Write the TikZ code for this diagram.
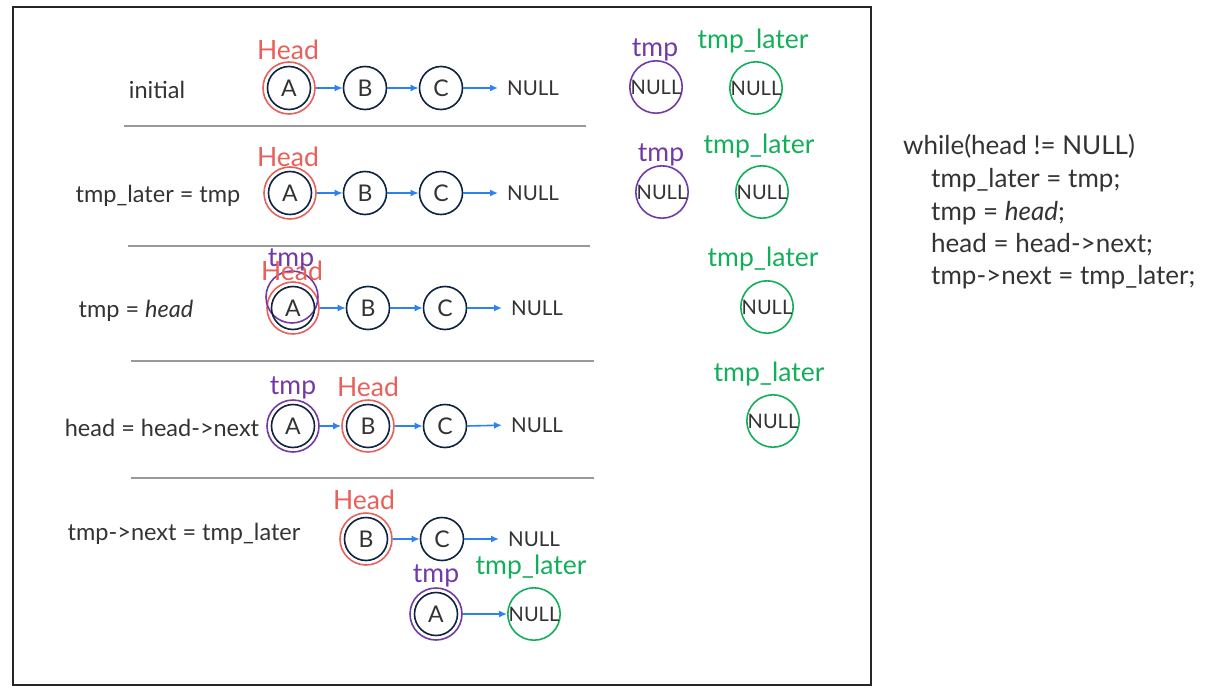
\documentclass[tikz,border=0pt]{standalone}
\usepackage{fontspec}
\setmainfont{Lato}
\usetikzlibrary{arrows.meta}
\definecolor{navy}{HTML}{0D2340}
\definecolor{hred}{HTML}{E8605A}
\definecolor{tpur}{HTML}{7339A6}
\definecolor{tgrn}{HTML}{12AE5A}
\definecolor{ablue}{HTML}{2B82F0}
\definecolor{txt}{HTML}{333333}
\definecolor{sep}{HTML}{999999}
\tikzset{
  nd/.style={circle,draw=navy,line width=1.6pt,minimum size=43pt,inner sep=0pt,text=txt,font=\fontsize{23}{23}\selectfont},
  headring/.style={circle,draw=hred,line width=1.6pt,minimum size=52pt,inner sep=0pt},
  tmpring/.style={circle,draw=tpur,line width=1.6pt,minimum size=52pt,inner sep=0pt},
  nulltmp/.style={circle,draw=tpur,line width=1.6pt,minimum size=52pt,inner sep=0pt,text=txt,font=\fontsize{20}{20}\selectfont},
  nulllat/.style={circle,draw=tgrn,line width=1.6pt,minimum size=52pt,inner sep=0pt,text=txt,font=\fontsize{20}{20}\selectfont},
  nulltxt/.style={text=txt,inner sep=0pt,font=\fontsize{20.5}{20.5}\selectfont},
  hlbl/.style={text=hred,inner sep=0pt,font=\fontsize{26.5}{26.5}\selectfont},
  tlbl/.style={text=tpur,inner sep=0pt,font=\fontsize{26.5}{26.5}\selectfont},
  glbl/.style={text=tgrn,inner sep=0pt,font=\fontsize{26.5}{26.5}\selectfont},
  steplbl/.style={text=txt,inner sep=0pt,font=\fontsize{23.5}{23.5}\selectfont},
  codeln/.style={text=txt,inner sep=0pt,anchor=west,font=\fontsize{26}{26}\selectfont},
  arr/.style={draw=ablue,line width=1.6pt,-{Latex[length=8pt,width=7pt]}},
  nullarr/.style={arr,shorten >=9pt},
  sepline/.style={draw=sep,line width=2pt},
  frame/.style={draw=black!85,line width=1.5pt}
}
\begin{document}
\begin{tikzpicture}[x=1pt,y=-1pt]
\useasboundingbox (0,0) rectangle (1227,696);
\draw[frame] (13,7) rectangle (871,685);
% row 1
\node[steplbl] (l1) at (157,90) {initial};
\node[headring] (h1) at (289,88) {};
\node[nd] (a1) at (289,88) {A};
\node[nd] (b1) at (365,88) {B};
\node[nd] (c1) at (441,88) {C};
\node[nulltxt,anchor=west] (n1) at (507,88) {NULL};
\node[hlbl] (hl1) at (288,50) {Head};
\draw[arr] (h1.east) -- (b1.west);
\draw[arr] (b1.east) -- (c1.west);
\draw[nullarr] (c1.east) -- (n1.west);
\node[nulltmp] (t1) at (656,87) {NULL};
\node[tlbl] (tl1) at (655,50) {tmp};
\node[nulllat] (g1) at (756,88) {NULL};
\node[glbl] (gl1) at (753,41) {tmp\_later};
\coordinate (s1a) at (124,126); \coordinate (s1b) at (586,126);
\draw[sepline] (s1a) -- (s1b);
% row 2
\node[steplbl] (l2) at (158,196) {tmp\_later = tmp};
\node[headring] (h2) at (290,193) {};
\node[nd] (a2) at (290,193) {A};
\node[nd] (b2) at (365,193) {B};
\node[nd] (c2) at (441,193) {C};
\node[nulltxt,anchor=west] (n2) at (507,193) {NULL};
\node[hlbl] (hl2) at (288,157) {Head};
\draw[arr] (h2.east) -- (b2.west);
\draw[arr] (b2.east) -- (c2.west);
\draw[nullarr] (c2.east) -- (n2.west);
\node[nulltmp] (t2) at (662,192) {NULL};
\node[tlbl] (tl2) at (661,155) {tmp};
\node[nulllat] (g2) at (762,192) {NULL};
\node[glbl] (gl2) at (759,146) {tmp\_later};
\coordinate (s2a) at (128,246); \coordinate (s2b) at (590,246);
\draw[sepline] (s2a) -- (s2b);
% row 3
\node[steplbl] (l3) at (136,311) {tmp = \textit{head}};
\node[headring] (h3) at (293,308) {};
\node[tmpring] (p3) at (292,297) {};
\node[nd] (a3) at (293,308) {A};
\node[nd] (b3) at (368,308) {B};
\node[nd] (c3) at (445,308) {C};
\node[nulltxt,anchor=west] (n3) at (511,308) {NULL};
\node[hlbl] (hl3) at (292,271) {Head};
\node[tlbl] (tl3) at (291,260) {tmp};
\draw[arr] (h3.east) -- (b3.west);
\draw[arr] (b3.east) -- (c3.west);
\draw[nullarr] (c3.east) -- (n3.west);
\node[nulllat] (g3) at (767,307) {NULL};
\node[glbl] (gl3) at (763,259) {tmp\_later};
\coordinate (s3a) at (131,361); \coordinate (s3b) at (594,361);
\draw[sepline] (s3a) -- (s3b);
% row 4
\node[steplbl] (l4) at (162,428) {head = head->next};
\node[tmpring] (p4) at (293,426) {};
\node[nd] (a4) at (293,426) {A};
\node[headring] (h4) at (368,426) {};
\node[nd] (b4) at (368,426) {B};
\node[nd] (c4) at (445,426) {C};
\node[nulltxt,anchor=west] (n4) at (511,425) {NULL};
\node[tlbl] (tl4) at (293,388) {tmp};
\node[hlbl] (hl4) at (368,387) {Head};
\draw[arr] (p4.east) -- (h4.west);
\draw[arr] (h4.east) -- (c4.west);
\draw[nullarr] (c4.east) -- (n4.west);
\node[nulllat] (g4) at (773,421) {NULL};
\node[glbl] (gl4) at (769,374) {tmp\_later};
\coordinate (s4a) at (131,478); \coordinate (s4b) at (594,478);
\draw[sepline] (s4a) -- (s4b);
% row 5
\node[steplbl] (l5) at (184,534) {tmp->next = tmp\_later};
\node[headring] (h5) at (366,539) {};
\node[nd] (b5) at (366,539) {B};
\node[nd] (c5) at (442,539) {C};
\node[nulltxt,anchor=west] (n5) at (508,539) {NULL};
\node[hlbl] (hl5) at (364,500) {Head};
\draw[arr] (h5.east) -- (c5.west);
\draw[nullarr] (c5.east) -- (n5.west);
\node[tmpring] (p5) at (436,614) {};
\node[nd] (a5) at (436,614) {A};
\node[tlbl] (tl5) at (436,576) {tmp};
\node[nulllat] (g5) at (534,614) {NULL};
\node[glbl] (gl5) at (531,567) {tmp\_later};
\draw[arr] (p5.east) -- (g5.west);
% code
\node[codeln] (k1) at (903,146) {while(head != NULL)};
\node[codeln] (k2) at (931,180) {tmp\_later = tmp;};
\node[codeln] (k3) at (931,213) {tmp = \textit{head};};
\node[codeln] (k4) at (931,245) {head = head->next;};
\node[codeln] (k5) at (931,277) {tmp->next = tmp\_later;};
\end{tikzpicture}
\end{document}
